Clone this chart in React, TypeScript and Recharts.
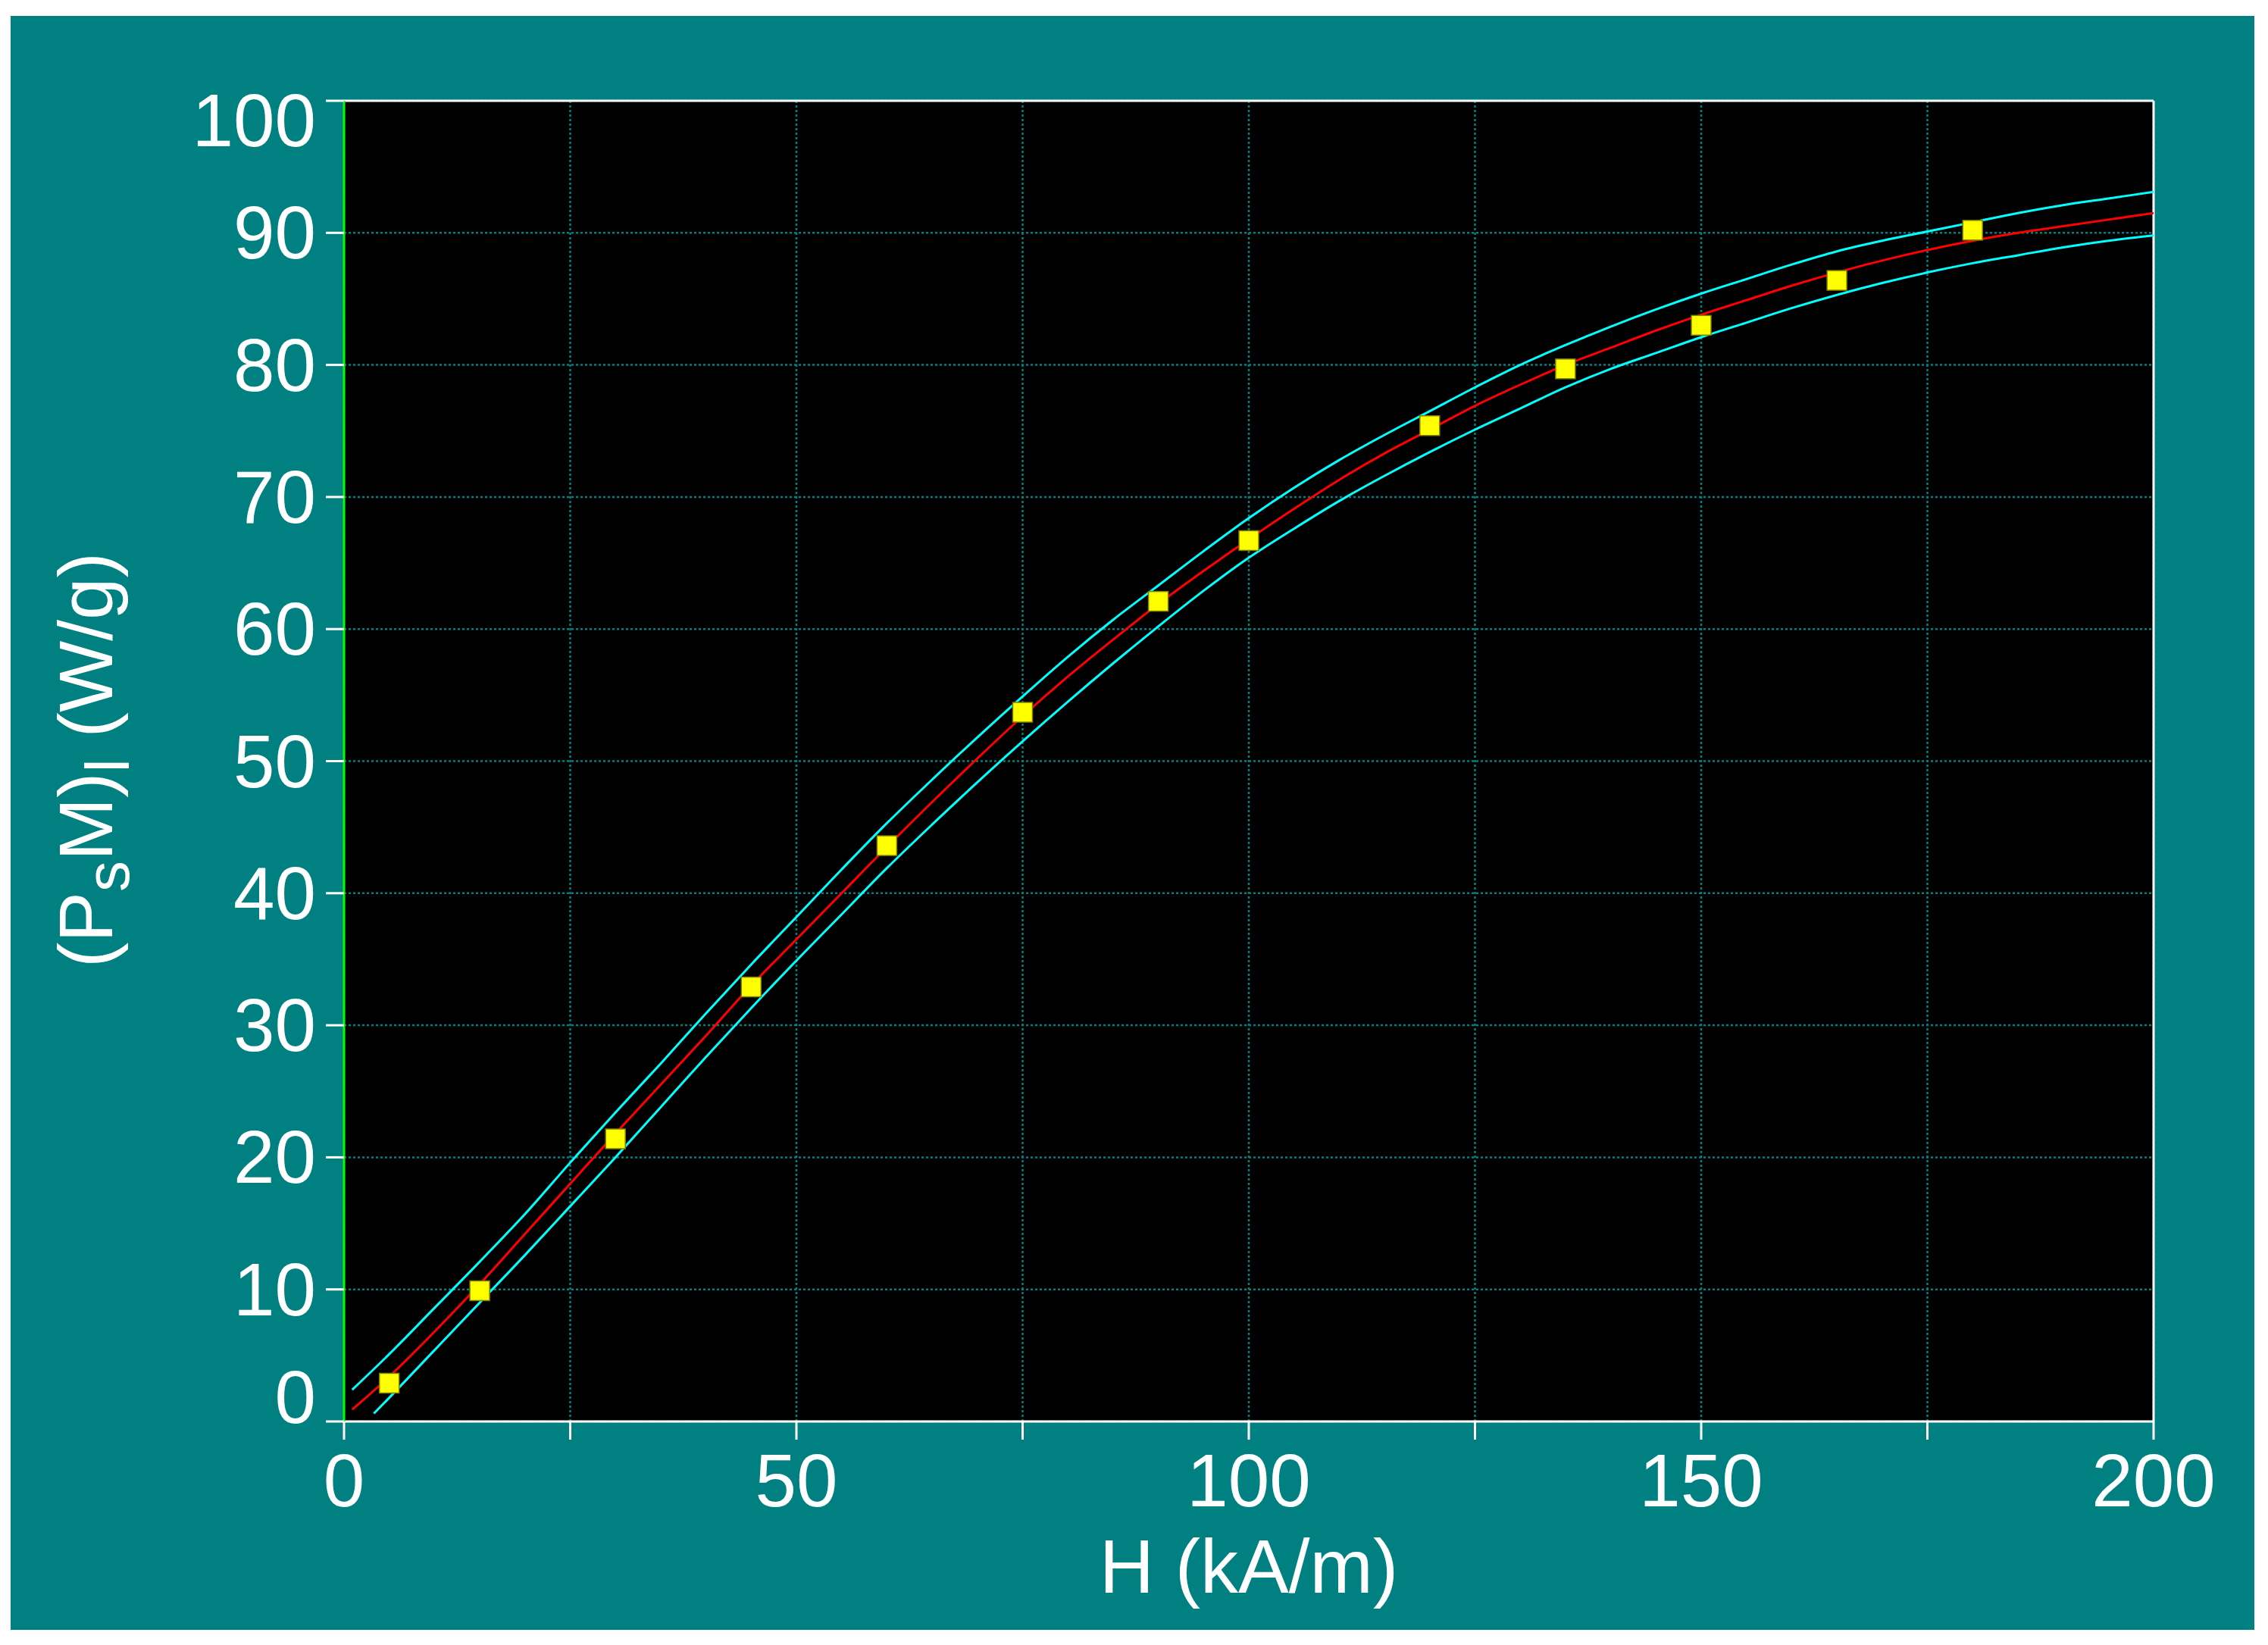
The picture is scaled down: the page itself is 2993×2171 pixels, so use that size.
import React from 'react'
import {
  ComposedChart,
  XAxis,
  YAxis,
  CartesianGrid,
  Line,
  Scatter,
  ReferenceLine,
} from 'recharts'

// measured points (yellow squares)
const measuredH = [5, 15, 30, 45, 60, 75, 90, 100, 120, 135, 150, 165, 180]
const measuredP = [2.9, 9.9, 21.4, 32.9, 43.6, 53.7, 62.1, 66.7, 75.4, 79.7, 83.0, 86.4, 90.2]

// fitted curve (red)
const fitH = [0.9, 5, 10, 15, 20, 25, 30, 35, 40, 45, 50, 55, 60, 65, 70, 75, 80, 85, 90, 95, 100,
  105, 110, 115, 120, 125, 130, 135, 140, 145, 150, 155, 160, 165, 170, 175, 180, 185, 190, 195, 200]
const fitP = [0.9, 3.4, 6.8, 10.4, 14.2, 18.0, 21.8, 25.5, 29.2, 33.0, 36.5, 40.0, 43.5, 46.9, 50.2,
  53.4, 56.4, 59.2, 61.9, 64.4, 66.8, 69.1, 71.3, 73.3, 75.1, 76.9, 78.5, 80.0, 81.3, 82.6, 83.8,
  84.9, 86.0, 87.0, 87.9, 88.7, 89.4, 90.0, 90.5, 91.0, 91.5]

// confidence band, upper (cyan)
const upperH = fitH
const upperP = [2.4, 5.1, 8.6, 12.1, 15.7, 19.6, 23.4, 27.1, 30.9, 34.6, 38.2, 41.8, 45.3, 48.6, 51.8,
  54.9, 57.9, 60.7, 63.3, 65.9, 68.4, 70.7, 72.8, 74.7, 76.5, 78.3, 80.0, 81.5, 82.9, 84.2, 85.4,
  86.5, 87.6, 88.6, 89.4, 90.1, 90.8, 91.5, 92.1, 92.6, 93.1]

// confidence band, lower (cyan)
const lowerH = [3.3, 5, 10, 15, 20, 25, 30, 35, 40, 45, 50, 55, 60, 65, 70, 75, 80, 85, 90, 95, 100,
  105, 110, 115, 120, 125, 130, 135, 140, 145, 150, 155, 160, 165, 170, 175, 180, 185, 190, 195, 200]
const lowerP = [0.6, 1.8, 5.4, 9.0, 12.6, 16.3, 20.0, 23.8, 27.6, 31.3, 34.9, 38.4, 41.9, 45.2, 48.4,
  51.5, 54.5, 57.4, 60.2, 62.9, 65.4, 67.6, 69.7, 71.6, 73.4, 75.1, 76.7, 78.3, 79.7, 80.9, 82.1,
  83.2, 84.3, 85.3, 86.2, 87.0, 87.7, 88.3, 88.9, 89.4, 89.8]

const xTicks = [0, 25, 50, 75, 100, 125, 150, 175, 200]
const yTicks = [0, 10, 20, 30, 40, 50, 60, 70, 80, 90, 100]

const W = 2993
const H = 2171
const FONT = '"Liberation Sans", Arial, sans-serif'
const TEAL = '#008080'

const zip = (xs: number[], ys: number[]) => xs.map((x, i) => ({ x, y: ys[i] }))

function XTick({ x, y, payload }: { x: number; y: number; payload: { value: number } }) {
  if (payload.value % 50 !== 0) return null
  return (
    <text x={x} y={y + 86} textAnchor="middle" fill="#fff" fontSize={98} fontFamily={FONT}>
      {payload.value}
    </text>
  )
}

function YTick({ x, y, payload }: { x: number; y: number; payload: { value: number } }) {
  // end labels are pushed inside the plot's height, like the original
  const base = Math.min(Math.max(y + 34, 193), 1878)
  return (
    <text x={x - 11} y={base} textAnchor="end" fill="#fff" fontSize={98} fontFamily={FONT}>
      {payload.value}
    </text>
  )
}

function Square(props: { cx?: number; cy?: number }) {
  const { cx = 0, cy = 0 } = props
  return <rect x={cx - 13} y={cy - 13} width={26} height={26} fill="#ffff00" stroke="#808000" strokeWidth={1.5} />
}

export default function App() {
  const measured = zip(measuredH, measuredP)
  const fit = zip(fitH, fitP)
  const upper = zip(upperH, upperP)
  const lower = zip(lowerH, lowerP)

  return (
    <div style={{ position: 'absolute', left: 0, top: 0, width: W, height: H, background: '#fff' }}>
      <div style={{ position: 'absolute', left: 14, top: 21, width: 2961, height: 2130, background: TEAL }} />
      <div style={{ position: 'absolute', left: 0, top: 0 }}>
        <ComposedChart width={W} height={H} margin={{ top: 133, right: 151, left: 0, bottom: 0 }}>
          <CartesianGrid
            fill="#000"
            fillOpacity={1}
            stroke={TEAL}
            strokeWidth={2.5}
            strokeDasharray="3 3"
          />
          <XAxis
            dataKey="x"
            type="number"
            domain={[0, 200]}
            ticks={xTicks}
            interval={0}
            height={295}
            tickSize={24}
            axisLine={{ stroke: '#fff', strokeWidth: 3 }}
            tickLine={{ stroke: '#fff', strokeWidth: 3 }}
            tick={XTick as never}
            allowDataOverflow
          />
          <YAxis
            type="number"
            domain={[0, 100]}
            ticks={yTicks}
            interval={0}
            width={454}
            tickSize={24}
            axisLine={{ stroke: '#00ff00', strokeWidth: 3 }}
            tickLine={{ stroke: '#fff', strokeWidth: 3 }}
            tick={YTick as never}
            allowDataOverflow
          />
          <ReferenceLine y={100} stroke="#fff" strokeWidth={3} />
          <ReferenceLine x={200} stroke="#fff" strokeWidth={3} />
          <Scatter data={measured} dataKey="y" shape={Square as never} isAnimationActive={false} />
          <Line data={upper} dataKey="y" type="monotone" stroke="#00ffff" strokeWidth={3} dot={false} isAnimationActive={false} />
          <Line data={lower} dataKey="y" type="monotone" stroke="#00ffff" strokeWidth={3} dot={false} isAnimationActive={false} />
          <Line data={fit} dataKey="y" type="monotone" stroke="#ff0000" strokeWidth={3} dot={false} isAnimationActive={false} />
        </ComposedChart>
      </div>
      <svg
        width={W}
        height={H}
        style={{ position: 'absolute', left: 0, top: 0, pointerEvents: 'none' }}
        fontFamily={FONT}
        fill="#fff"
      >
        <text x={1648} y={2102} textAnchor="middle" fontSize={100}>
          H (kA/m)
        </text>
        <text transform="translate(148,1003) rotate(-90)" textAnchor="middle" fontSize={100}>
          (P
          <tspan fontSize={82} dy={22}>s</tspan>
          <tspan dy={-22}>M)</tspan>
          <tspan fontSize={82} dy={22}>l</tspan>
          <tspan dy={-22}> (W/g)</tspan>
        </text>
      </svg>
    </div>
  )
}
